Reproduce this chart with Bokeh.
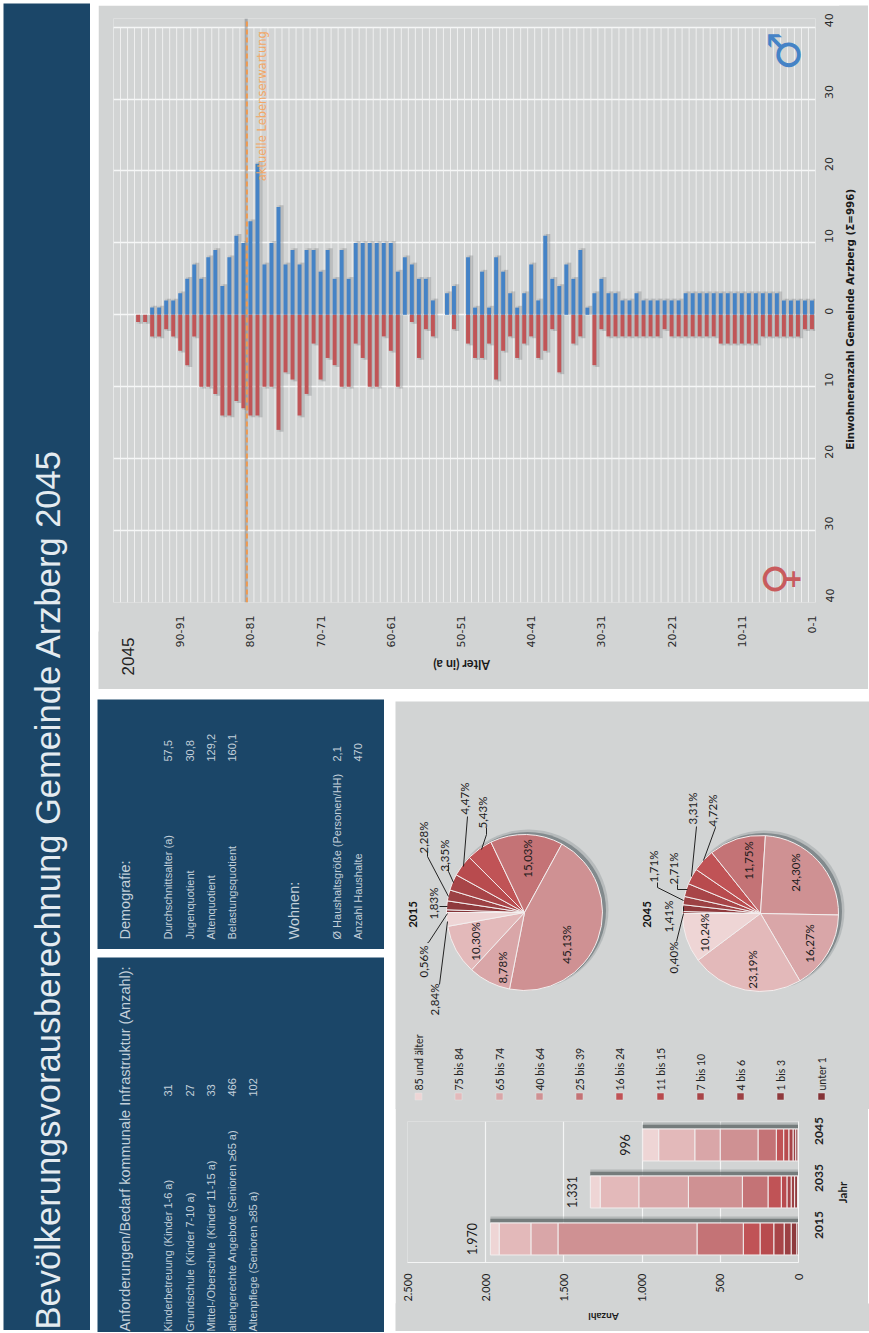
from math import pi
from bokeh.plotting import figure
from bokeh.layouts import row, column
from bokeh.models import ColumnDataSource, Range1d, FactorRange, FixedTicker, Label
from bokeh.transform import dodge
from bokeh.core.properties import value
from bokeh.embed import file_html
from bokeh.resources import INLINE

# ---------- data ----------
ages = list(range(96, -1, -1))
male = [0,0,1,1,2,2,3,5,7,5,8,9,4,8,11,10,13,21,7,10,15,7,9,7,9,9,6,9,5,9,5,10,10,10,10,10,10,
        6,8,7,5,5,2,0,3,4,0,8,1,6,1,8,6,3,1,3,7,2,11,5,4,7,5,9,1,3,5,3,3,2,2,3,2,2,2,2,2,2,
        3,3,3,3,3,3,3,3,3,3,3,3,3,3,2,2,2,2,2]
female = [1,1,3,3,2,3,5,7,3,10,10,11,14,14,12,13,14,14,10,10,16,8,9,14,11,4,9,6,7,10,10,4,6,10,10,3,5,
          10,0,1,6,2,3,0,0,2,0,4,6,6,4,9,5,3,6,4,3,6,5,2,8,0,4,3,0,7,2,3,3,3,3,3,3,3,3,2,3,3,
          3,3,3,3,3,4,4,4,4,4,4,3,3,3,3,3,3,2,2]
life_expectancy_age = 80.5
age_ticks = [0,10,20,30,40,50,60,70,80,90]
age_labels = ["0-1","10-11","20-21","30-31","40-41","50-51","60-61","70-71","80-81","90-91"]
count_ticks = [-40,-30,-20,-10,0,10,20,30,40]

groups = ["unter 1","1 bis 3","4 bis 6","7 bis 10","11 bis 15","16 bis 24","25 bis 39","40 bis 64","65 bis 74","75 bis 84","85 und älter"]
group_colors = ["#843337","#8f3a3d","#9c4144","#a84548","#b84b4e","#c05356","#c47376","#cf9193","#d9a6a8","#e3b9ba","#eed5d5"]
years = ["2015","2035","2045"]
counts_2015 = [11,36,45,66,88,107,296,889,173,203,56]
counts_2035 = [6,19,22,27,36,85,164,345,317,247,63]
counts_2045 = [4,14,17,27,33,47,117,242,162,231,102]
totals = [1970,1331,996]
total_labels = ["1.970","1.331","996"]
share_2015 = [0.56,1.83,2.28,3.35,4.47,5.43,15.03,45.13,8.78,10.30,2.84]
share_2045 = [0.40,1.41,1.71,2.71,3.31,4.72,11.75,24.30,16.27,23.19,10.24]
share_labels_2015 = ["0,56%","1,83%","2,28%","3,35%","4,47%","5,43%","15,03%","45,13%","8,78%","10,30%","2,84%"]
share_labels_2045 = ["0,40%","1,41%","1,71%","2,71%","3,31%","4,72%","11,75%","24,30%","16,27%","23,19%","10,24%"]

demo_rows = ["Durchschnittsalter (a)","Jugenquotient","Altenquotient","Belastungsquotient"]
demo_vals = ["57,5","30,8","129,2","160,1"]
home_rows = ["Ø Haushaltsgröße (Personen/HH)","Anzahl Haushalte"]
home_vals = ["2,1","470"]
infra_rows = ["Kinderbetreuung (Kinder 1-6 a)","Grundschule (Kinder 7-10 a)","Mittel-/Oberschule (Kinder 11-15 a)",
              "altengerechte Angebote (Senioren ≥65 a)","Altenpflege (Senioren ≥85 a)"]
infra_vals = ["31","27","33","466","102"]

# ---------- styles ----------
NAVY = "#1b4668"
GREY = "#d2d4d4"
SANS = "Liberation Sans"
PALE = "#c3d0da"
BLUE = "#4583c6"
RED = "#c05557"

def panel(x0, x1, y0, y1, bg, margin):
    p = figure(width=x1-x0, height=y1-y0, x_range=Range1d(x0, x1), y_range=Range1d(y1, y0),
               output_backend="svg", toolbar_location=None, x_axis_type=None, y_axis_type=None,
               min_border=0, margin=margin, background_fill_color=bg, border_fill_color=bg,
               frame_align=False)
    p.grid.visible = False
    p.outline_line_color = None
    return p

def txt(p, xs, ys, texts, size, color, font, bold=False, align="left", angle=pi/2):
    p.text(x=xs, y=ys, text=texts, angle=angle, text_font=value(font), text_font_size=f"{size}px",
           text_font_style="bold" if bold else "normal", text_color=color, text_align=align, text_baseline="middle")

# ---------- title ----------
t = panel(3, 90, 3, 1330, NAVY, (3, 0, 3, 3))
txt(t, [47], [1329], ["Bevölkerungsvorausberechnung Gemeinde Arzberg 2045"], 34.5, "#e4ebf0", SANS)

# ---------- pyramid ----------
src = ColumnDataSource(dict(age=ages, male=male, fem=[-v for v in female],
                            male_s=[v + 0.25 if v else 0 for v in male],
                            fem_s=[-v - 0.25 if v else 0 for v in female]))
py = figure(width=742, height=645, x_range=Range1d(99.5, -0.5), y_range=Range1d(-40, 41.2),
            output_backend="svg", toolbar_location=None, y_axis_location="right",
            min_border_left=15, min_border_right=25, min_border_top=13, min_border_bottom=48,
            margin=(0, 0, 0, 0), background_fill_color=GREY, border_fill_color=GREY, frame_align=False)
py.outline_line_color = None
py.xgrid.visible = False
py.ygrid.ticker = FixedTicker(ticks=count_ticks)
py.ygrid.grid_line_color = "#f6f7f7"
py.ygrid.grid_line_width = 1.5
boundaries = [i - 0.5 for i in range(0, 101)]
py.segment(x0=boundaries, x1=boundaries, y0=[-40]*len(boundaries), y1=[40]*len(boundaries),
           line_color="#f4f5f5", line_width=1, line_alpha=0.85)
for off, w, a in ((-0.3, 0.95, 0.10), (-0.4, 0.55, 0.17)):
    py.vbar(x=dodge("age", off, range=py.x_range), top="male_s", bottom=0, width=w, source=src,
            fill_color="#4d5355", line_color=None, fill_alpha=a)
    py.vbar(x=dodge("age", off, range=py.x_range), top=0, bottom="fem_s", width=w, source=src,
            fill_color="#4d5355", line_color=None, fill_alpha=a)
py.vbar(x="age", top="male", bottom=0, width=0.56, source=src, fill_color=BLUE, line_color=None)
py.vbar(x="age", top=0, bottom="fem", width=0.56, source=src, fill_color=RED, line_color=None)
py.line([life_expectancy_age + 0.1]*2, [-40, 41.2], line_color="#7d8488", line_width=3, line_alpha=0.55)
py.line([life_expectancy_age]*2, [-40, 41.2], line_color="#f09a50", line_width=2, line_dash="5 3")
for ax in (py.xaxis[0], py.yaxis[0]):
    ax.major_label_orientation = pi/2
    ax.major_tick_line_color = None
    ax.minor_tick_line_color = None
    ax.axis_line_color = None
    ax.major_label_text_font = "DejaVu Sans"
    ax.major_label_text_font_size = "11px"
    ax.major_label_text_color = "#2a2a2a"
py.xaxis.ticker = FixedTicker(ticks=age_ticks)
py.xaxis.major_label_overrides = dict(zip(age_ticks, age_labels))
py.xaxis.major_label_standoff = 7
py.yaxis.ticker = FixedTicker(ticks=count_ticks)
py.yaxis.major_label_overrides = {v: str(abs(v)) for v in count_ticks}
py.yaxis.major_label_standoff = 8

def lab(p, x, y, text, size, color, font, bold=False, angle=90):
    p.add_layout(Label(x=x, y=y, text=text, angle=angle, angle_units="deg", text_font=font,
                       text_font_size=f"{size}px", text_font_style="bold" if bold else "normal",
                       text_color=color, text_align="center", text_baseline="middle"))

lab(py, 78.3, 29, "aktuelle Lebenserwartung", 11.5, "#f2a765", "DejaVu Sans")
lab(py, 3.86, 36.7, "♂", 44, BLUE, "DejaVu Sans", True)
lab(py, 4.6, -36.76, "♀", 44, "#c85b5d", "DejaVu Sans", True)

# text strips beside the pyramid
rs = panel(840, 869, 5, 650, GREY, (0, 0, 0, -1))
txt(rs, [850], [317], ["Einwohneranzahl  Gemeinde Arzberg (Σ=996)"], 10.3, "#1a1a1a", "DejaVu Sans", True, "center")
bs_a = panel(98, 142, 632, 690, GREY, (-18, 0, 0, 0))
txt(bs_a, [127], [657], ["2045"], 17, "#222222", SANS, align="center")
bs_b = panel(142, 869, 650, 690, GREY, (0, 0, 0, -1))
txt(bs_b, [462], [665], ["Alter (in a)"], 12.5, "#1a1a1a", "Lato", True, "center", pi)

# ---------- info panels ----------
d = panel(97, 384, 700, 950, NAVY, (0, 0, 0, 0))
txt(d, [124, 293], [940, 940], ["Demografie:", "Wohnen:"], 14.5, PALE, SANS)
txt(d, [167, 189, 210, 231, 336, 357], [940]*6, demo_rows + home_rows, 11, PALE, SANS)
txt(d, [167, 189, 210, 231, 336, 357], [762]*6, demo_vals + home_vals, 11, PALE, SANS)

f = panel(97, 384, 958, 1333, NAVY, (8, 0, 0, 0))
txt(f, [124], [1332], ["Anforderungen/Bedarf kommunale Infrastruktur (Anzahl):"], 14.5, PALE, SANS)
txt(f, [167, 189, 210, 231, 252], [1332]*5, infra_rows, 11, PALE, SANS)
txt(f, [167, 189, 210, 231, 252], [1097]*5, infra_vals, 11, PALE, SANS)

# ---------- pies + legend ----------
pp = panel(395, 869, 702, 1110, GREY, (0, 0, 0, 0))

def pie(cx, cy, shares):
    starts, ends, acc = [], [], 0.0
    total = sum(shares)
    for s in shares:
        a0 = pi - 2*pi*acc/total
        acc += s
        a1 = pi - 2*pi*acc/total
        starts.append(a0); ends.append(a1)
    n = len(shares)
    pp.circle(x=[cx+4], y=[cy-3], radius=80, fill_color="#4d5a5e", fill_alpha=0.2, line_color=None)
    pp.circle(x=[cx+3], y=[cy-2], radius=78.5, fill_color="#4d5a5e", fill_alpha=0.5, line_color=None)
    pp.wedge(x=[cx]*n, y=[cy]*n, radius=78, start_angle=starts, end_angle=ends, direction="clock",
             fill_color=group_colors, line_color="#f3eeee", line_width=1)

pie(524, 913, share_2015)
pie(760, 914, share_2045)

pct_font = "Lato"
x15 = [423,433,423,444,464,482,527,566,502,475,434]
y15 = [962,904,838,856,799,813,859,945,968,942,1000]
x45 = [673,668,653,673,692,712,748,795,809,752,704]
y45 = [958,917,867,869,809,811,861,873,944,970,933]
txt(pp, x15, y15, share_labels_2015, 11.5, "#1a1a1a", pct_font, align="center")
txt(pp, x45, y45, share_labels_2045, 11.5, "#1a1a1a", pct_font, align="center")
txt(pp, [412, 646], [915, 915], ["2015", "2045"], 11.5, "#111111", pct_font, True, "center")

lead_x = [[447,428,427],[447,439],[448,427,427],[453,448,448],[463,467],[481,486,486],
          [447,439],[683,676],[691,696],[703,715,715],[687,677,677],[683,657,657],[683,683]]
lead_y = [[914,943,943],[907,907],[897,857,852],[883,872,865],[867,817],[850,835,828],
          [922,985],[914,942],[877,827],[861,828,827],[890,890,885],[901,888,883],[907,912]]
pp.multi_line(xs=lead_x, ys=lead_y, line_color="#222222", line_width=1)

leg_x = [821,780,740,700,660,619,579,539,499,458,418]
pp.scatter(x=leg_x, y=[1097]*11, marker="square", size=7, fill_color=group_colors, line_color="#e6e6e6", line_width=0.5)
txt(pp, leg_x, [1091]*11, groups, 10.5, "#222222", "Lato")

# ---------- stacked bars ----------
ssrc = dict(year=years, total=totals, lab=total_labels)
for i, g in enumerate(groups):
    ssrc[g] = [counts_2015[i], counts_2035[i], counts_2045[i]]
ssrc = ColumnDataSource(ssrc)
st = figure(width=440, height=196, x_range=Range1d(2500, 0), y_range=FactorRange(factors=years),
            output_backend="svg", toolbar_location=None, y_axis_location="right",
            min_border_left=12, min_border_right=37, min_border_top=13, min_border_bottom=40,
            margin=(0, 0, 0, 0), background_fill_color=GREY, border_fill_color=GREY, frame_align=False)
st.outline_line_color = None
st.ygrid.visible = False
st.xgrid.grid_line_color = "#f4f5f5"
st.xgrid.grid_line_width = 1.2
st.xgrid.ticker = FixedTicker(ticks=[0,500,1000,1500,2000,2500])
for off, h, a in ((0.42, 0.12, 0.25), (0.39, 0.08, 0.7)):
    st.hbar(y=dodge("year", off, range=st.y_range), left=0, right="total", height=h, source=ssrc,
            fill_color="#5a6263", line_color=None, fill_alpha=a)
st.hbar_stack(groups, y="year", height=0.68, source=ssrc, fill_color=group_colors,
              line_color="#f2eeee", line_width=1)
st.text(x="total", y="year", text="lab", source=ssrc, angle=pi/2, x_offset=-18, text_font=value("Lato"),
        text_font_size="12.5px", text_color="#1a1a1a", text_align="center", text_baseline="middle")
for ax in (st.xaxis[0], st.yaxis[0]):
    ax.major_label_orientation = pi/2
    ax.major_tick_line_color = None
    ax.minor_tick_line_color = None
    ax.axis_line_color = "#f4f5f5"
    ax.major_label_text_font = "Lato"
    ax.major_label_text_color = "#222222"
st.xaxis.ticker = FixedTicker(ticks=[0,500,1000,1500,2000,2500])
st.xaxis.major_label_overrides = {0:"0",500:"500",1000:"1.000",1500:"1.500",2000:"2.000",2500:"2.500"}
st.xaxis.major_label_text_font_size = "11px"
st.xaxis.major_label_standoff = 5
st.yaxis.major_label_text_font_size = "12px"
st.yaxis.major_label_text_font_style = "bold"
st.yaxis.major_label_standoff = 14
js = panel(835, 869, 1109, 1305, GREY, (0, 0, 0, -1))
txt(js, [843], [1193], ["Jahr"], 11.5, "#1a1a1a", "Lato", True, "center")
az = panel(395, 869, 1305, 1333, GREY, (-1, 0, 0, 0))
txt(az, [603], [1318], ["Anzahl"], 10, "#1a1a1a", "Lato", True, "center", pi)

# ---------- page ----------
top_part = column(row(py, rs), row(bs_a, bs_b, margin=(-1, 0, 0, 0)), margin=(5, 0, 0, 8))
chart_part = column(pp, row(st, js, margin=(-1, 0, 0, 0)), az, margin=(2, 0, 0, 11))
bottom = row(column(d, f, margin=(0,0,0,7)), chart_part, margin=(10,0,0,0))
right = column(top_part, bottom)
root = row(t, right, margin=(0,0,0,0))
open("out.html", "w").write(file_html(root, INLINE))
